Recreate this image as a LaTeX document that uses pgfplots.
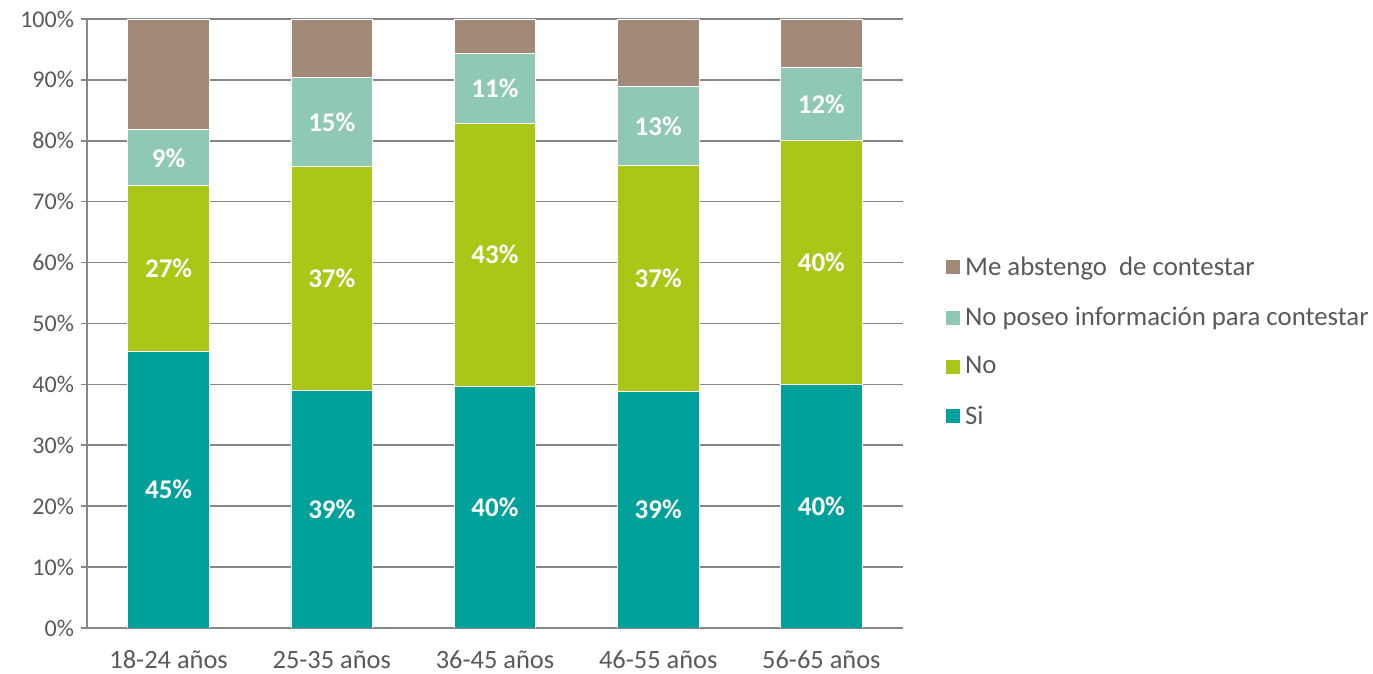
\documentclass[border=0pt]{standalone}
\usepackage{pgfplots}
\pgfplotsset{compat=1.18}
\usepackage{fontspec}
\setmainfont{Carlito}
\definecolor{siC}{HTML}{00A19A}
\definecolor{noC}{HTML}{A8C716}
\definecolor{npC}{HTML}{8FC9B4}
\definecolor{meC}{HTML}{A38978}
\definecolor{txt}{HTML}{595959}
\definecolor{gridC}{HTML}{868686}
\pgfplotsset{
  midlabels/.style={
    nodes near coords={\pgfmathprintnumber[fixed,precision=0,assume math mode=true]{\pgfplotspointmeta}\%},
    every node near coord/.append style={
      font=\fontsize{13.5}{14}\selectfont\bfseries, text=white, anchor=center}
  }
}
\begin{document}
\begin{tikzpicture}
\path[use as bounding box] (-43.5pt,-23pt) rectangle (643pt,314pt);
\begin{axis}[
  scale only axis, width=408pt, height=304.5pt,
  ybar stacked, bar width=0.5,
  xmin=-0.5, xmax=4.5, ymin=0, ymax=100,
  axis x line*=bottom, axis y line*=left,
  axis line style={gridC, line width=0.8pt},
  xtick={0,1,2,3,4},
  xticklabels={18-24 años,25-35 años,36-45 años,46-55 años,56-65 años},
  x tick label style={font=\fontsize{13.2}{14}\selectfont, text=txt, yshift=-7.5pt, inner ysep=0.5pt},
  major x tick style={draw=none},
  extra x ticks={-0.5,0.5,1.5,2.5,3.5,4.5},
  extra x tick labels={},
  extra x tick style={major tick length=6pt, tick align=outside, tick style={gridC, line width=0.8pt}, grid=none},
  ytick={0,10,...,100},
  yticklabels={0\%,10\%,20\%,30\%,40\%,50\%,60\%,70\%,80\%,90\%,100\%},
  y tick label style={font=\fontsize{12}{14}\selectfont, text=txt},
  tick align=outside, major tick length=3pt,
  y tick style={gridC, line width=0.8pt},
  ymajorgrids, grid style={gridC, line width=0.8pt},
  legend style={at={(1.044,0.47)}, anchor=west, draw=none, fill=none,
    font=\fontsize{13.4}{14}\selectfont, text=txt, row sep=10.3pt},
  legend cell align=left,
  reverse legend,
  legend image code/.code={\fill[#1] (0pt,-3.75pt) rectangle (7.5pt,3.75pt);},
]
\addplot[fill=siC, draw=white, line width=0.4pt, midlabels] coordinates {(0,45.4) (1,39.0) (2,39.7) (3,38.9) (4,40.0)};
\addplot[fill=noC, draw=white, line width=0.4pt, midlabels] coordinates {(0,27.2) (1,36.8) (2,43.2) (3,37.1) (4,40.0)};
\addplot[fill=npC, draw=white, line width=0.4pt, midlabels] coordinates {(0,9.2) (1,14.6) (2,11.4) (3,12.9) (4,12.0)};
\addplot[fill=meC, draw=white, line width=0.4pt] coordinates {(0,18.2) (1,9.6) (2,5.7) (3,11.1) (4,8.0)};
\legend{Si,No,No poseo información para contestar,Me abstengo\ \ de contestar}
\end{axis}
\end{tikzpicture}
\end{document}
